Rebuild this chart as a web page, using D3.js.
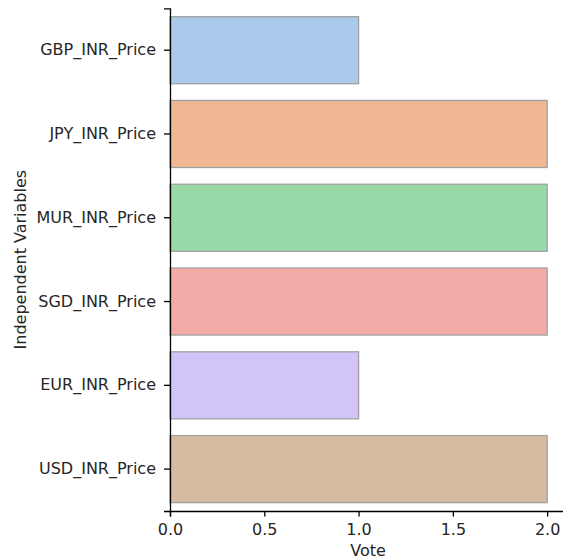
<!DOCTYPE html>
<html><head><meta charset="utf-8">
<script src="https://cdn.jsdelivr.net/npm/d3@7"></script>
<style>
html,body{margin:0;padding:0;background:#fff;}
svg text{font-family:"DejaVu Sans",sans-serif;fill:#262626;}
</style></head>
<body><svg id="c" width="563" height="560"></svg>
<script>
const categories = ["GBP_INR_Price","JPY_INR_Price","MUR_INR_Price","SGD_INR_Price","EUR_INR_Price","USD_INR_Price"];
const votes = [1,2,2,2,1,2];
const colors = ["#abc9ea","#efb792","#98daa7","#f3aba8","#d3c4f7","#d6bba3"];
const xTicks = [0,0.5,1,1.5,2];
const xLabel = "Vote", yLabel = "Independent Variables";

const svg = d3.select("#c");
const mLeft = 170, mTop = 8.3, mBottom = 511, mRight = 566;
const x = d3.scaleLinear().domain([0,2.1]).range([mLeft,mRight]);
const y = d3.scaleBand().domain(categories).range([mTop,mBottom]).paddingInner(0.2).paddingOuter(0.1);

svg.append("g").selectAll("rect").data(categories).join("rect")
  .attr("x", x(0)).attr("y", d=>y(d))
  .attr("width", (d,i)=>x(votes[i])-x(0)).attr("height", y.bandwidth())
  .attr("fill",(d,i)=>colors[i]).attr("stroke","#a0a0a0").attr("stroke-width",1.3);

const fs = "16px";
const xa = svg.append("g").attr("transform",`translate(0,${mBottom})`)
  .call(d3.axisBottom(x).tickValues(xTicks).tickFormat(d3.format(".1f")).tickSizeOuter(0).tickSize(5.6).tickPadding(7));
xa.select(".domain").attr("stroke","#000").attr("stroke-width",1.3);
xa.selectAll(".tick line").attr("stroke","#000").attr("stroke-width",1.3);
xa.selectAll("text").attr("font-size",fs).attr("fill","#262626").attr("font-family","DejaVu Sans");

const ya = svg.append("g").attr("transform",`translate(${mLeft},0)`)
  .call(d3.axisLeft(y).tickSizeOuter(0).tickSize(6).tickPadding(8));
ya.select(".domain").attr("stroke","#000").attr("stroke-width",1.3);
ya.selectAll(".tick line").attr("stroke","#000").attr("stroke-width",1.3);
ya.selectAll("text").attr("font-size",fs).attr("fill","#262626").attr("font-family","DejaVu Sans");

svg.append("text").attr("x",(mLeft+mRight)/2).attr("y",555.5).attr("text-anchor","middle")
  .attr("font-size",fs).text(xLabel);
svg.append("text").attr("transform",`translate(25.5,${(mTop+mBottom)/2}) rotate(-90)`).attr("text-anchor","middle")
  .attr("font-size",fs).text(yLabel);
</script></body></html>
